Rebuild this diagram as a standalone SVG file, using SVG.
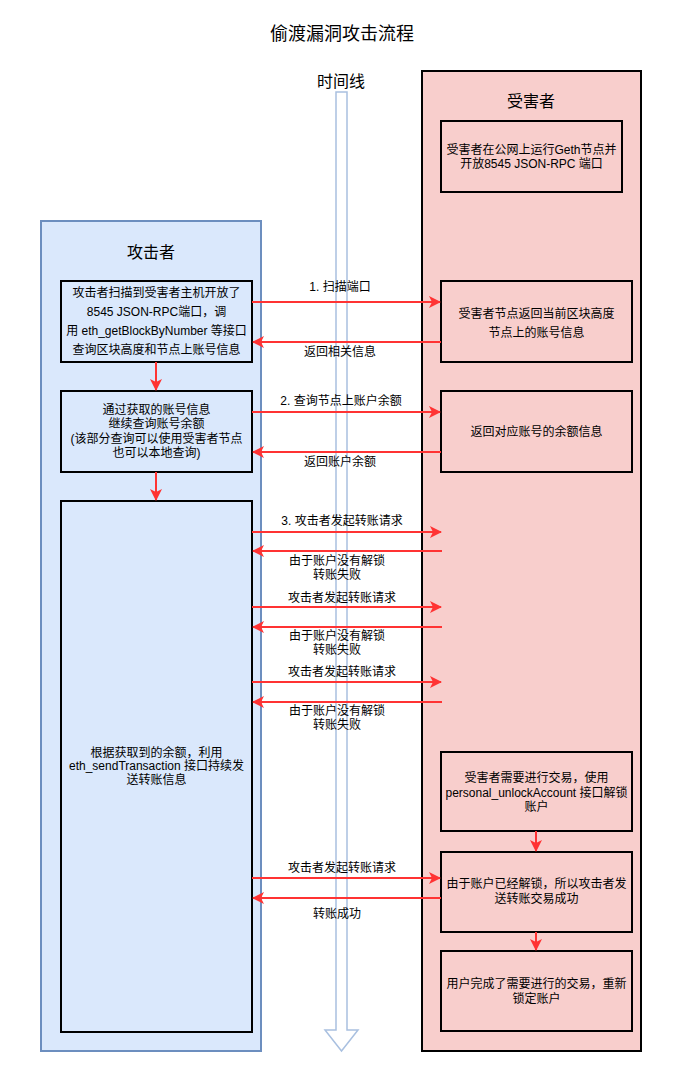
<svg xmlns="http://www.w3.org/2000/svg" width="692" height="1082" viewBox="0 0 692 1082">
<style>
text{font-family:"Liberation Sans","Noto Sans CJK SC",sans-serif;fill:#000;text-anchor:middle}
.t{font-size:12px}
.h{font-size:16px}
.box{fill:none;stroke:#000;stroke-width:2}
.ln{stroke:#ff3333;stroke-width:2;fill:none}
</style>
<defs>
<marker id="ah" viewBox="0 0 12 12" refX="11" refY="6" markerWidth="12" markerHeight="12" markerUnits="userSpaceOnUse" orient="auto">
<path d="M0,0 L12,6 L0,12 L3,6 Z" fill="#ff3333"/>
</marker>
</defs>
<rect width="692" height="1082" fill="#fff"/>
<text x="342" y="40" style="font-size:18px">偷渡漏洞攻击流程</text>
<g id="attacker">
<rect x="41" y="221" width="220" height="830" fill="#dae8fc" stroke="#6c8ebf" stroke-width="2"/>
<text class="h" x="151" y="258">攻击者</text>
</g>
<g id="victim">
<rect x="422" y="71" width="219" height="980" fill="#f8cecc" stroke="#000" stroke-width="2"/>
<text class="h" x="531" y="107">受害者</text>
</g>
<g id="timeline">
<path d="M336,92 L347,92 L347,1030 L358,1030 L341.5,1051 L325,1030 L336,1030 Z" fill="#fff" stroke="#a9c0e0" stroke-width="1.5"/>
<text class="h" x="341" y="87">时间线</text>
</g>
<g id="a1">
<rect class="box" x="61" y="281" width="191" height="81"/>
<text class="t" x="156.5" y="297">攻击者扫描到受害者主机开放了</text>
<text class="t" x="156.5" y="316">8545 JSON-RPC端口，调</text>
<text class="t" x="156.5" y="335">用 eth_getBlockByNumber 等接口</text>
<text class="t" x="156.5" y="354">查询区块高度和节点上账号信息</text>
</g>
<g id="a2">
<rect class="box" x="61" y="391" width="191" height="81"/>
<text class="t" x="156.5" y="414">通过获取的账号信息</text>
<text class="t" x="156.5" y="428">继续查询账号余额</text>
<text class="t" x="156.5" y="443">(该部分查询可以使用受害者节点</text>
<text class="t" x="156.5" y="457">也可以本地查询)</text>
</g>
<g id="a3">
<rect class="box" x="61" y="501" width="191" height="531"/>
<text class="t" x="156.5" y="757">根据获取到的余额，利用</text>
<text class="t" x="156.5" y="770">eth_sendTransaction 接口持续发</text>
<text class="t" x="156.5" y="784">送转账信息</text>
</g>
<g id="v1">
<rect class="box" x="441" y="121" width="181" height="71"/>
<text class="t" x="531.5" y="154">受害者在公网上运行Geth节点并</text>
<text class="t" x="531.5" y="168">开放8545 JSON-RPC 端口</text>
</g>
<g id="v2">
<rect class="box" x="441" y="281" width="191" height="81"/>
<text class="t" x="536.5" y="318">受害者节点返回当前区块高度</text>
<text class="t" x="536.5" y="337">节点上的账号信息</text>
</g>
<g id="v3">
<rect class="box" x="441" y="391" width="191" height="81"/>
<text class="t" x="536.5" y="436">返回对应账号的余额信息</text>
</g>
<g id="v4">
<rect class="box" x="441" y="752" width="191" height="79"/>
<text class="t" x="536.5" y="782">受害者需要进行交易，使用</text>
<text class="t" x="536.5" y="797">personal_unlockAccount 接口解锁</text>
<text class="t" x="536.5" y="811">账户</text>
</g>
<g id="v5">
<rect class="box" x="441" y="852" width="191" height="80"/>
<text class="t" x="536.5" y="888">由于账户已经解锁，所以攻击者发</text>
<text class="t" x="536.5" y="903">送转账交易成功</text>
</g>
<g id="v6">
<rect class="box" x="441" y="951" width="191" height="80"/>
<text class="t" x="536.5" y="988">用户完成了需要进行的交易，重新</text>
<text class="t" x="536.5" y="1003">锁定账户</text>
</g>
<g id="connectors">
<path class="ln" d="M156,362 V390" marker-end="url(#ah)"/>
<path class="ln" d="M156,472 V500" marker-end="url(#ah)"/>
<path class="ln" d="M536,831 V851" marker-end="url(#ah)"/>
<path class="ln" d="M536,932 V950" marker-end="url(#ah)"/>
<path class="ln" d="M252,302 H440" marker-end="url(#ah)"/>
<path class="ln" d="M441,342 H253" marker-end="url(#ah)"/>
<path class="ln" d="M252,412 H440" marker-end="url(#ah)"/>
<path class="ln" d="M441,452 H253" marker-end="url(#ah)"/>
<path class="ln" d="M252,532 H441" marker-end="url(#ah)"/>
<path class="ln" d="M442,551 H253" marker-end="url(#ah)"/>
<path class="ln" d="M252,607 H441" marker-end="url(#ah)"/>
<path class="ln" d="M442,627 H253" marker-end="url(#ah)"/>
<path class="ln" d="M252,682 H441" marker-end="url(#ah)"/>
<path class="ln" d="M442,702 H253" marker-end="url(#ah)"/>
<path class="ln" d="M252,878 H440" marker-end="url(#ah)"/>
<path class="ln" d="M441,898 H253" marker-end="url(#ah)"/>
<text class="t" x="340" y="291">1. 扫描端口</text>
<text class="t" x="340" y="356">返回相关信息</text>
<text class="t" x="341" y="405">2. 查询节点上账户余额</text>
<text class="t" x="340" y="466">返回账户余额</text>
<text class="t" x="342" y="525">3. 攻击者发起转账请求</text>
<text class="t" x="337" y="565">由于账户没有解锁</text>
<text class="t" x="337" y="579">转账失败</text>
<text class="t" x="342" y="602">攻击者发起转账请求</text>
<text class="t" x="337" y="640">由于账户没有解锁</text>
<text class="t" x="337" y="654">转账失败</text>
<text class="t" x="342" y="676">攻击者发起转账请求</text>
<text class="t" x="337" y="715">由于账户没有解锁</text>
<text class="t" x="337" y="729">转账失败</text>
<text class="t" x="342" y="872">攻击者发起转账请求</text>
<text class="t" x="337" y="918">转账成功</text>
</g>
</svg>
